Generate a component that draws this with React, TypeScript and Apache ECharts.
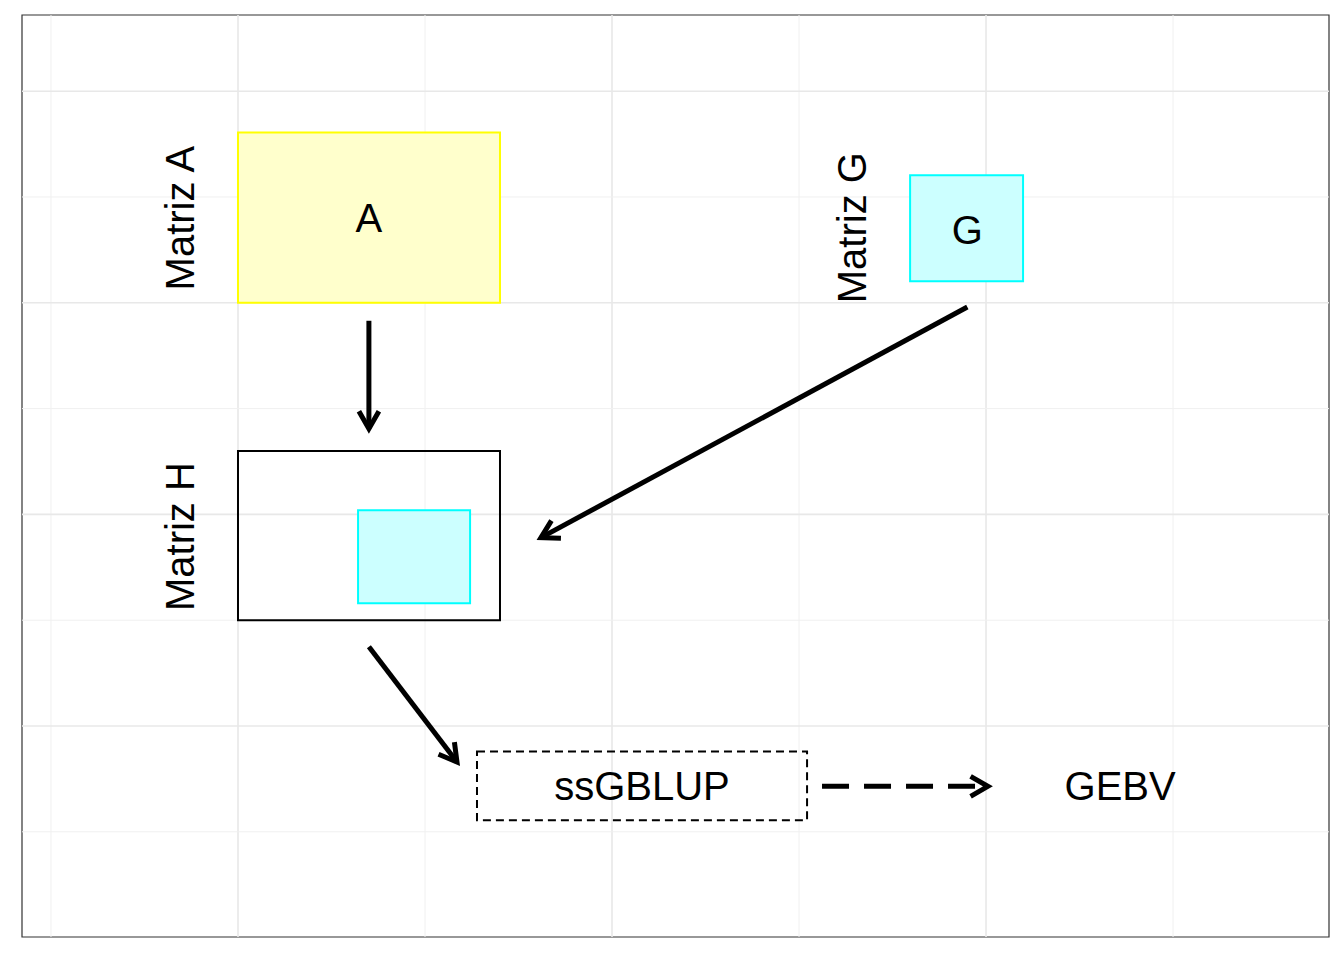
import React, { useEffect, useRef } from "react";
import * as echarts from "echarts";

const majorX = [2, 4, 6];
const minorX = [1, 3, 5, 7];
const majorY = [2, 4, 6, 8];
const minorY = [1, 3, 5, 7];

// rects: x0, y0, x1, y1
const rects = [
  [2, 6, 3.401, 7.61],
  [5.594, 6.204, 6.198, 7.206],
  [2, 3.0, 3.401, 4.6],
  [2.642, 3.16, 3.241, 4.04],
  [3.278, 1.11, 5.043, 1.76],
];
const rectFill = ["#ffffcc", "#ccffff", "none", "#ccffff", "none"];
const rectStroke = ["#ffff00", "#00ffff", "#000000", "#00ffff", "#000000"];
const rectDash = [false, false, false, false, true];

// arrows: x0, y0, x1, y1
const arrows = [
  [2.7, 5.83, 2.7, 4.81],
  [5.9, 5.96, 3.62, 3.78],
  [2.7, 2.75, 3.171, 1.66],
  [5.123, 1.43, 6.01, 1.43],
];
const arrowDash = [false, false, false, true];

// labels: x, y
const labels = [
  [2.7, 6.8],
  [1.69, 6.8],
  [5.9, 6.69],
  [5.283, 6.71],
  [1.69, 3.79],
  [4.16, 1.43],
  [6.717, 1.43],
];
const labelText = ["A", "Matriz A", "G", "Matriz G", "Matriz H", "ssGBLUP", "GEBV"];
const labelRot = [false, true, false, true, true, false, false];

const FONT = "Liberation Sans, Arial, sans-serif";

export default function App() {
  const ref = useRef<HTMLDivElement>(null);
  useEffect(() => {
    document.body.style.margin = "0";
    const chart = echarts.init(ref.current!, null, { renderer: "svg" });
    const gridLines: any[] = [];
    majorX.forEach((v) => gridLines.push([v, 0, 1]));
    minorX.forEach((v) => gridLines.push([v, 0, 0]));
    majorY.forEach((v) => gridLines.push([v, 1, 1]));
    minorY.forEach((v) => gridLines.push([v, 1, 0]));
    chart.setOption({
      animation: false,
      grid: { left: 22, top: 15, right: 15, bottom: 23, show: true, borderColor: "#333", borderWidth: 1.2, backgroundColor: "#fff" },
      xAxis: { type: "value", min: 0.845, max: 7.834, show: false },
      yAxis: { type: "value", min: 0.0057, max: 8.72, show: false },
      series: [
        {
          type: "custom",
          data: gridLines,
          renderItem: (params: any, api: any) => {
            const v = api.value(0), dir = api.value(1), major = api.value(2);
            const cs = params.coordSys;
            let shape;
            if (dir === 0) {
              const p = api.coord([v, 1]);
              shape = { x1: p[0], y1: cs.y, x2: p[0], y2: cs.y + cs.height };
            } else {
              const p = api.coord([1, v]);
              shape = { x1: cs.x, y1: p[1], x2: cs.x + cs.width, y2: p[1] };
            }
            return { type: "line", shape, style: { stroke: major ? "#e8e8e8" : "#f0f0f0", lineWidth: major ? 1.6 : 1 } };
          },
          silent: true,
          z: 1,
        },
        {
          type: "custom",
          data: rects,
          renderItem: (params: any, api: any) => {
            const i = params.dataIndex;
            const a = api.coord([api.value(0), api.value(1)]);
            const b = api.coord([api.value(2), api.value(3)]);
            return {
              type: "rect",
              shape: { x: a[0], y: b[1], width: b[0] - a[0], height: a[1] - b[1] },
              style: { fill: rectFill[i], stroke: rectStroke[i], lineWidth: 2, lineDash: rectDash[i] ? [8, 5] : null },
            };
          },
          silent: true,
          z: 2,
        },
        {
          type: "custom",
          data: arrows,
          renderItem: (params: any, api: any) => {
            const i = params.dataIndex;
            const a = api.coord([api.value(0), api.value(1)]);
            const b = api.coord([api.value(2), api.value(3)]);
            const ang = Math.atan2(b[1] - a[1], b[0] - a[0]);
            const L = 20, h = Math.PI / 6;
            const p1 = [b[0] - L * Math.cos(ang - h), b[1] - L * Math.sin(ang - h)];
            const p2 = [b[0] - L * Math.cos(ang + h), b[1] - L * Math.sin(ang + h)];
            return {
              type: "group",
              children: [
                { type: "line", shape: { x1: a[0], y1: a[1], x2: b[0], y2: b[1] }, style: { stroke: "#000", lineWidth: 5, lineDash: arrowDash[i] ? [27, 15] : null } },
                { type: "polyline", shape: { points: [p1, b, p2] }, style: { stroke: "#000", lineWidth: 5, fill: "none" } },
              ],
            };
          },
          silent: true,
          z: 3,
        },
        {
          type: "custom",
          data: labels,
          renderItem: (params: any, api: any) => {
            const i = params.dataIndex;
            const p = api.coord([api.value(0), api.value(1)]);
            return {
              type: "text",
              x: p[0],
              y: p[1],
              rotation: labelRot[i] ? Math.PI / 2 : 0,
              style: { text: labelText[i], fill: "#000", font: `40px ${FONT}`, align: "center", verticalAlign: "middle" },
            };
          },
          silent: true,
          z: 4,
        },
      ],
    });
    return () => chart.dispose();
  }, []);
  return <div ref={ref} style={{ width: 1344, height: 960 }} />;
}
